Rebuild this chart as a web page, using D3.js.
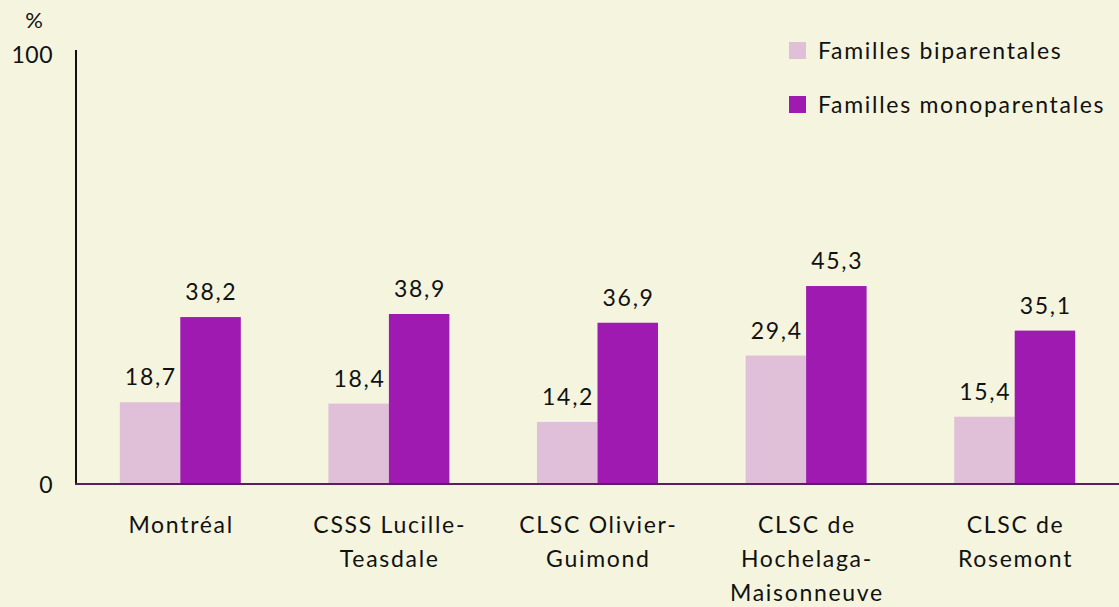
<!DOCTYPE html>
<html>
<head>
<meta charset="utf-8">
<script src="https://cdn.jsdelivr.net/npm/d3@7"></script>
<style>
  body { margin: 0; background: #F5F5DF; }
  svg { display: block; }
  text { font-family: Lato, "Open Sans", sans-serif; fill: #111; }
</style>
</head>
<body>
<div id="chart"></div>
<script>
var categories = [
  ["Montréal"],
  ["CSSS Lucille-", "Teasdale"],
  ["CLSC Olivier-", "Guimond"],
  ["CLSC de", "Hochelaga-", "Maisonneuve"],
  ["CLSC de", "Rosemont"]
];
var seriesNames = ["Familles biparentales", "Familles monoparentales"];
var biparentales = [18.7, 18.4, 14.2, 29.4, 15.4];
var monoparentales = [38.2, 38.9, 36.9, 45.3, 35.1];
var yTicks = [0, 100];
var colors = ["#E0C0D8", "#9E1AB0"];

var width = 1119, height = 607;
var fs = '23px', ls = 1.7;
var svg = d3.select('#chart').append('svg')
  .attr('width', width)
  .attr('height', height)
  .style('background-color', '#F5F5DF');

var x0 = d3.scaleBand()
  .domain(d3.range(categories.length))
  .range([76, 1119])
  .paddingInner(0.42)
  .paddingOuter(0.21);
var x1 = d3.scaleBand()
  .domain([0, 1])
  .range([0, x0.bandwidth()]);
var y = d3.scaleLinear().domain([0, 100]).range([484, 47]);

var series = [biparentales, monoparentales];
var rows = categories.map(function (c, i) {
  return series.map(function (s, k) { return { i: i, k: k, v: s[i] }; });
});

var g = svg.selectAll('g.grp').data(rows).enter().append('g')
  .attr('class', 'grp')
  .attr('transform', function (d, i) { return 'translate(' + x0(i) + ',0)'; });

g.selectAll('rect').data(function (d) { return d; }).enter().append('rect')
  .attr('x', function (d) { return x1(d.k); })
  .attr('y', function (d) { return y(d.v); })
  .attr('width', x1.bandwidth())
  .attr('height', function (d) { return y(0) - y(d.v); })
  .attr('fill', function (d) { return colors[d.k]; });

g.selectAll('text.val').data(function (d) { return d; }).enter().append('text')
  .attr('class', 'val')
  .attr('x', function (d) { return x1(d.k) + x1.bandwidth() / 2 + ls / 2; })
  .attr('y', function (d) { return y(d.v) - 17; })
  .attr('text-anchor', 'middle')
  .style('font-size', fs)
  .style('letter-spacing', ls + 'px')
  .text(function (d) { return d3.format('.1f')(d.v).replace('.', ','); });

// axes
svg.append('line')
  .attr('x1', 76).attr('x2', 76)
  .attr('y1', 50).attr('y2', y(0))
  .attr('stroke', '#111').attr('stroke-width', 2);
svg.append('line')
  .attr('x1', 75).attr('x2', width)
  .attr('y1', y(0)).attr('y2', y(0))
  .attr('stroke', '#5A1E64').attr('stroke-width', 2);

svg.selectAll('text.ytick').data(yTicks).enter().append('text')
  .attr('class', 'ytick')
  .attr('x', 53)
  .attr('y', function (d) { return d === 100 ? 63 : y(d) + 9; })
  .attr('text-anchor', 'end')
  .style('font-size', fs)
  .style('letter-spacing', '0.5px')
  .text(function (d) { return d; });

svg.append('text')
  .attr('x', 34).attr('y', 28)
  .attr('text-anchor', 'middle')
  .style('font-size', '22px')
  .text('%');

// category labels
svg.selectAll('text.cat').data(categories).enter().append('text')
  .attr('class', 'cat')
  .attr('text-anchor', 'middle')
  .style('font-size', fs)
  .style('letter-spacing', ls + 'px')
  .each(function (d, i) {
    var t = d3.select(this);
    d.forEach(function (line, j) {
      t.append('tspan')
        .attr('x', x0(i) + x0.bandwidth() / 2 + ls / 2)
        .attr('y', 533 + j * 34)
        .text(line);
    });
  });

// legend
var leg = svg.selectAll('g.leg').data(seriesNames).enter().append('g')
  .attr('class', 'leg')
  .attr('transform', function (d, i) { return 'translate(789,' + (42 + i * 54) + ')'; });
leg.append('rect')
  .attr('width', 17).attr('height', 17)
  .attr('fill', function (d, i) { return colors[i]; });
leg.append('text')
  .attr('x', 29).attr('y', 17)
  .style('font-size', fs)
  .style('letter-spacing', ls + 'px')
  .text(function (d) { return d; });
</script>
</body>
</html>
